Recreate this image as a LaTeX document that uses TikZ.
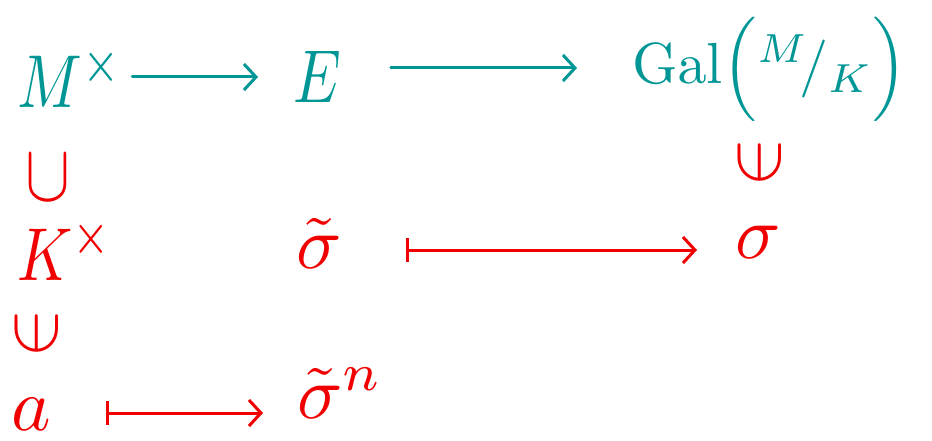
\documentclass[tikz,border=0pt]{standalone}
\usepackage{amsmath}
\usetikzlibrary{arrows.meta,calc}
\definecolor{tealink}{RGB}{0,150,150}
\definecolor{redink}{RGB}{240,0,0}
\begin{document}
\begin{tikzpicture}[x=1pt,y=-1pt,
  sym/.style={inner sep=0pt, outer sep=0pt, scale=7.5},
  tsym/.style={sym, text=tealink},
  rsym/.style={sym, text=redink},
  tarrow/.style={draw=tealink, line width=3pt, line cap=round, -{Straight Barb[length=12pt,width=26pt,line width=3pt]}},
  rarrow/.style={draw=redink, line width=3pt, line cap=round, {Bar[width=24pt,line width=3pt]}-{Straight Barb[length=12pt,width=26pt,line width=3pt]}}]
\useasboundingbox (0,0) rectangle (932,441);
% top row
\node[tsym, xscale=0.8, anchor=base west] (M) at (18,108) {$M^{\times}$};
\node[tsym, xscale=0.8, anchor=base west] (E) at (293,103) {$E$};
\node[tsym, scale=5.8/7.5, anchor=base west] (G) at (632,84) {$\mathrm{Gal}\Bigl({}^{M}\!/{}_{K}\Bigr)$};
% column relations
\node[rsym, scale=0.9, yscale=1.2] (sub) at (48,178) {$\cup$};
\node[rsym, xscale=0.8, anchor=base west] (K) at (17,280) {$K^{\times}$};
\node[rsym, rotate=90] (inK) at (37,333) {$\in$};
\node[rsym, anchor=base west] (a) at (12,430) {$a$};
\node[rsym, anchor=base west] (st) at (296,268) {$\tilde{\sigma}$};
\node[rsym, anchor=base west] (s) at (735,258) {$\sigma$};
\node[rsym, rotate=90] (inG) at (760,162) {$\in$};
\node[rsym, anchor=base west] (stn) at (297,418) {$\tilde{\sigma}^{n}$};
% arrows
\draw[tarrow] ($(M.base east)+(9,-31)$) -- ($(E.base west)+(-35,-26)$);
\draw[tarrow] ($(E.base east)+(50,-35)$) -- ($(G.base west)+(-55,-16)$);
\draw[rarrow] ($(st.base east)+(64,-18)$) -- ($(s.base west)+(-38,-8)$);
\draw[rarrow] ($(a.base east)+(54,-17)$) -- ($(stn.base west)+(-34,-5)$);
\end{tikzpicture}
\end{document}
